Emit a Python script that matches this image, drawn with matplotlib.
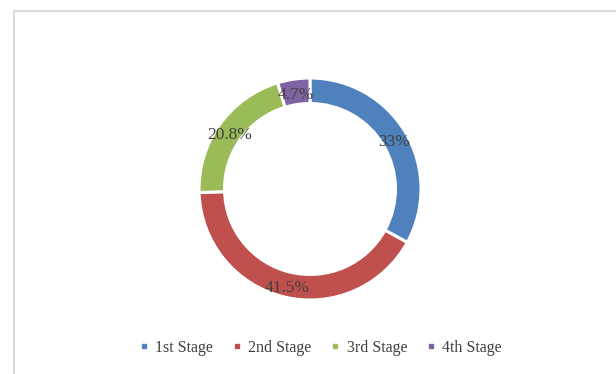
import matplotlib.pyplot as plt
import numpy as np
from matplotlib.lines import Line2D

stages = ["1st Stage", "2nd Stage", "3rd Stage", "4th Stage"]
shares = [33, 41.5, 20.8, 4.7]
share_labels = ["33%", "41.5%", "20.8%", "4.7%"]
colors = ["#4F81BD", "#C0504D", "#9BBB59", "#8064A2"]

plt.rcParams["font.family"] = ["Liberation Serif", "DejaVu Serif"]

fig = plt.figure(figsize=(6.16, 3.74), dpi=100)
fig.patch.set_facecolor("white")

# chart area border (top and left edges only are visible)
fig.add_artist(Line2D([13.5 / 616, 13.5 / 616], [0, 1 - 10.5 / 374], color="#D9D9D9", lw=1.5))
fig.add_artist(Line2D([13.5 / 616, 1], [1 - 10.5 / 374, 1 - 10.5 / 374], color="#D9D9D9", lw=1.5))

# axes placed so the ring centre sits at (310, 189) with radius ~111 px
r_px = 111
cx, cy = 310, 189
ax = fig.add_axes([(cx - r_px) / 616, 1 - (cy + r_px) / 374, 2 * r_px / 616, 2 * r_px / 374])

wedges, _ = ax.pie(shares, colors=colors, startangle=90, counterclock=False,
                   radius=1.0,
                   wedgeprops=dict(width=0.23, edgecolor="white", linewidth=2.2))

# percentage labels sit in the middle of the ring
total = sum(shares)
start = 90.0
for val, txt in zip(shares, share_labels):
    mid = np.deg2rad(start - val / total * 360 / 2)
    start -= val / total * 360
    ax.text(0.885 * np.cos(mid), 0.885 * np.sin(mid) - 0.03, txt,
            ha="center", va="center", fontsize=12.5, color="#404040")

ax.set_xlim(-1, 1)
ax.set_ylim(-1, 1)
ax.set_aspect("equal")

handles = [Line2D([], [], marker="s", linestyle="", markersize=3.5,
                  markerfacecolor=c, markeredgecolor=c) for c in colors]
fig.legend(handles, stages, loc="center", bbox_to_anchor=(319 / 616, 1 - 348 / 374),
           ncol=4, frameon=False, fontsize=11.5, labelcolor="#404040",
           handletextpad=0.2, columnspacing=1.0, handlelength=1.0)

fig.savefig("out.png", dpi=100)
